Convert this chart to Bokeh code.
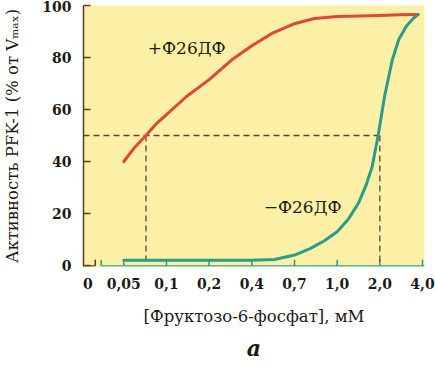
import numpy as np
from bokeh.plotting import figure
from bokeh.models import Range1d, FixedTicker, Label, Title
from bokeh.embed import file_html
from bokeh.resources import INLINE

# ---- data ----
tick_conc = [0.05, 0.1, 0.2, 0.4, 0.7, 1.0, 2.0, 4.0]
tick_labels = ["0,05", "0,1", "0,2", "0,4", "0,7", "1,0", "2,0", "4,0"]
y_ticks = [0, 20, 40, 60, 80, 100]

# with fructose-2,6-bisphosphate (+Ф26ДФ)
red_conc = [0.05, 0.063, 0.076, 0.088, 0.1, 0.147, 0.2, 0.305, 0.4, 0.55, 0.7, 0.84, 1.0, 1.5, 2.0, 2.9, 3.8]
red_act = [40, 45.5, 50, 54.5, 58, 65, 71.5, 79, 84.5, 89.5, 93, 95, 95.8, 96, 96.2, 96.4, 96.5]

# without fructose-2,6-bisphosphate (−Ф26ДФ)
green_conc = [0.05, 0.1, 0.2, 0.4, 0.56, 0.7, 0.81, 0.91, 1.0, 1.27, 1.5, 1.68, 1.82, 1.96, 2.22, 2.58, 2.89, 3.24, 3.56, 3.78]
green_act = [2, 2, 2, 2, 2.3, 4, 6.5, 9.5, 13, 18, 24, 31, 38, 50, 65, 79, 87, 92, 95, 96.5]

half_level = 50
half_conc_with = 0.076
half_conc_without = 2.0

# ---- styling ----
BG = "#fcefa6"
BROWN = "#5c3d1e"
TEAL = "#2b9c8a"
RED = "#e0463c"
DASH = "#5a4630"
TXT = "#1e1a14"
FONT = "DejaVu Serif"

tick_index = np.arange(1, len(tick_conc) + 1)


def pos(c):
    """concentration -> evenly spaced axis position (the reference axis is not linear)"""
    return np.interp(np.asarray(c, dtype=float), tick_conc, tick_index)


X0, X1 = 0.056, 8.046
Y0, Y1 = -0.4, 100
ZERO_POS = 0.16      # where the "0" of the broken axis sits
STUB_END = 0.332     # end of the brown stub
TEAL_START = 0.47    # start of the teal axis after the break
AXY = -0.2           # axis line height inside the frame
TICK_TOP = 2.2

p = figure(width=435, height=366, output_backend="svg", toolbar_location=None,
           x_range=Range1d(X0, X1), y_range=Range1d(Y0, Y1),
           min_border_left=77, min_border_right=11, min_border_top=5, min_border_bottom=100)
p.background_fill_color = BG
p.border_fill_color = "white"
p.outline_line_color = None
p.grid.visible = False

# y axis
p.yaxis.ticker = FixedTicker(ticks=y_ticks)
p.yaxis.axis_line_color = BROWN
p.yaxis.axis_line_width = 1.5
p.yaxis.major_tick_line_color = BROWN
p.yaxis.major_tick_line_width = 1.5
p.yaxis.major_tick_in = 7
p.yaxis.major_tick_out = 0
p.yaxis.minor_tick_line_color = None
p.yaxis.major_label_text_font = FONT
p.yaxis.major_label_text_font_style = "bold"
p.yaxis.major_label_text_font_size = "14px"
p.yaxis.major_label_text_color = TXT
p.yaxis.major_label_standoff = 12
p.yaxis.axis_label = "Активность PFK-1 (% от V\u2098\u2090\u2093)"
p.yaxis.axis_label_text_font = FONT
p.yaxis.axis_label_text_font_style = "normal"
p.yaxis.axis_label_text_font_size = "16.5px"
p.yaxis.axis_label_text_color = TXT
p.yaxis.axis_label_standoff = 17

# x axis: labels from Bokeh, line + ticks drawn in the frame (broken axis)
p.xaxis.ticker = FixedTicker(ticks=[ZERO_POS] + [float(t) for t in tick_index])
overrides = {ZERO_POS: "0"}
overrides.update({float(i): lab_ for i, lab_ in zip(tick_index, tick_labels)})
p.xaxis.major_label_overrides = overrides
p.xaxis.axis_line_color = None
p.xaxis.major_tick_line_color = None
p.xaxis.minor_tick_line_color = None
p.xaxis.major_label_text_font = FONT
p.xaxis.major_label_text_font_style = "bold"
p.xaxis.major_label_text_font_size = "14px"
p.xaxis.major_label_text_color = TXT
p.xaxis.major_label_standoff = 5
p.xaxis.axis_label = "[Фруктозо-6-фосфат], мМ"
p.xaxis.axis_label_text_font = FONT
p.xaxis.axis_label_text_font_style = "normal"
p.xaxis.axis_label_text_font_size = "16.5px"
p.xaxis.axis_label_text_color = TXT
p.xaxis.axis_label_standoff = 15

# brown stub from the origin with its tick, then the teal axis with ticks
p.segment(x0=[X0], y0=[AXY], x1=[STUB_END], y1=[AXY], line_color=BROWN, line_width=1.5)
p.segment(x0=[STUB_END], y0=[AXY], x1=[STUB_END], y1=[TICK_TOP], line_color=BROWN, line_width=1.5)
p.segment(x0=[TEAL_START], y0=[AXY], x1=[X1], y1=[AXY], line_color=TEAL, line_width=1.5)
tx = [TEAL_START] + [float(t) for t in tick_index]
p.segment(x0=tx, y0=[AXY] * len(tx), x1=tx, y1=[TICK_TOP] * len(tx), line_color=TEAL, line_width=1.5)

# dashed guides at half-maximal activity
p.segment(x0=[X0], y0=[half_level], x1=[pos(half_conc_without)], y1=[half_level],
          line_color=DASH, line_width=1.3, line_dash="6 4")
p.segment(x0=[pos(half_conc_with), pos(half_conc_without)], y0=[half_level, half_level],
          x1=[pos(half_conc_with), pos(half_conc_without)], y1=[0, 0],
          line_color=DASH, line_width=1.3, line_dash="6 4")

# curves
p.line(pos(red_conc), red_act, line_color=RED, line_width=3, line_join="round", line_cap="round")
p.line(pos(green_conc), green_act, line_color=TEAL, line_width=3, line_join="round", line_cap="round")

# curve labels
p.add_layout(Label(x=2.474, y=83.8, text="+Ф26ДФ", text_font=FONT, text_font_size="17px",
                   text_color=TXT, text_align="center", text_baseline="middle"))
p.add_layout(Label(x=5.19, y=22.3, text="−Ф26ДФ", text_font=FONT, text_font_size="17px",
                   text_color=TXT, text_align="center", text_baseline="middle"))

# panel letter
p.add_layout(Title(text="a", align="center", standoff=8, text_font=FONT, text_font_style="bold italic",
                   text_font_size="22px", text_color=TXT), "below")

open("out.html", "w").write(file_html(p, INLINE))
